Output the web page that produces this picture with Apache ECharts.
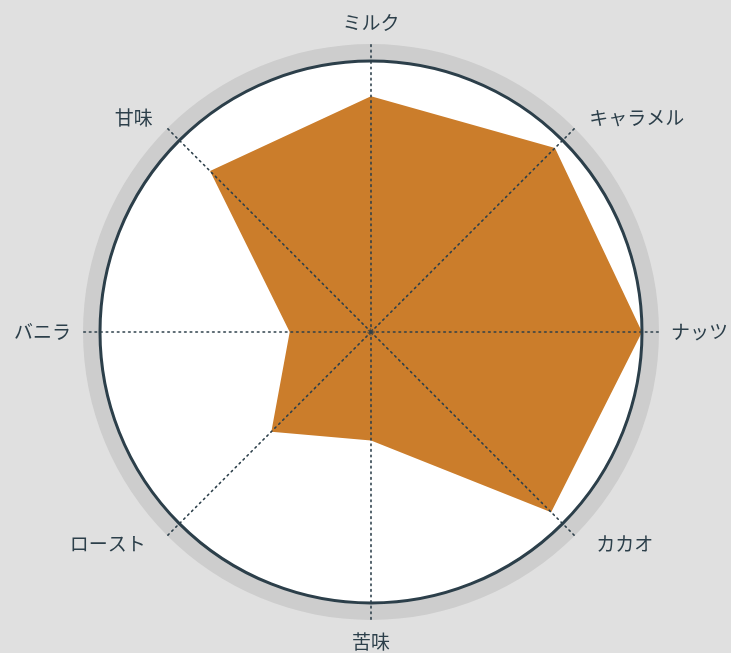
<!DOCTYPE html>
<html><head><meta charset="utf-8">
<script src="https://cdn.jsdelivr.net/npm/echarts@6/dist/echarts.min.js"></script>
<style>html,body{margin:0;padding:0;background:#e0e0e0}#c{width:731px;height:653px}</style>
</head><body><div id="c"></div>
<script>
// indicators listed counter-clockwise from the top (ECharts radar order)
const categories = ['ミルク', '甘味', 'バニラ', 'ロースト', '苦味', 'カカオ', 'ナッツ', 'キャラメル'];
const values = [87, 84, 30, 52, 40, 94, 100, 96];
const maxValue = 100;

const dark = '#2c3f4a';
const center = [371, 332];
const innerR = 271, outerR = 288;
const dotted = { color: dark, width: 1.6, type: [1.6, 4] };
const ind = categories.map(n => ({ name: n, max: maxValue, min: 0 }));

// label nudges (style keys) for diagonal names
const styleKey = { 'キャラメル': 'tr', '甘味': 'tl', 'カカオ': 'br', 'ロースト': 'bl' };

const chart = echarts.init(document.getElementById('c'));
chart.setOption({
  backgroundColor: '#e0e0e0',
  animation: false,
  radar: [
    { // outer ring + names
      center, radius: outerR, shape: 'circle', startAngle: 90, splitNumber: 1, z: 0,
      indicator: ind,
      axisName: {
        color: dark, fontSize: 19, fontFamily: 'Noto Sans CJK JP',
        formatter: (n) => styleKey[n] ? '{' + styleKey[n] + '|' + n + '}' : n,
        rich: {
          tr: { fontSize: 19, color: dark, padding: [0, 0, 4, 6] },
          tl: { fontSize: 19, color: dark, padding: [0, 6, 4, 0] },
          br: { fontSize: 19, color: dark, padding: [0, 0, 0, 13] },
          bl: { fontSize: 19, color: dark, padding: [0, 13, 0, 0] }
        }
      },
      nameGap: 12,
      axisLine: { lineStyle: dotted },
      splitLine: { show: false },
      splitArea: { show: true, areaStyle: { color: ['#cdcdcd'] } },
      axisTick: { show: false }, axisLabel: { show: false }
    },
    { // white disk
      center, radius: innerR, shape: 'circle', startAngle: 90, splitNumber: 1, z: 1,
      indicator: ind,
      axisName: { show: false },
      axisLine: { show: false },
      splitLine: { show: false },
      splitArea: { show: true, areaStyle: { color: ['#ffffff'] } }
    },
    { // axes + circle over the series
      center, radius: innerR, shape: 'circle', startAngle: 90, splitNumber: 1, z: 3,
      indicator: ind,
      axisName: { show: false },
      axisLine: { lineStyle: dotted },
      splitLine: { lineStyle: { color: dark, width: 3 } },
      splitArea: { show: false }
    }
  ],
  graphic: [{
    type: 'circle', shape: { cx: center[0], cy: center[1], r: 3 }, z: 10,
    style: { fill: 'none', stroke: dark, lineWidth: 1, lineDash: [1.5, 1] }
  }],
  series: [{
    type: 'radar', radarIndex: 2, z: 2, symbol: 'none',
    lineStyle: { width: 0, color: '#cb7d2b' },
    areaStyle: { color: '#cb7d2b', opacity: 1 },
    data: [{ value: values }]
  }]
});
</script></body></html>
